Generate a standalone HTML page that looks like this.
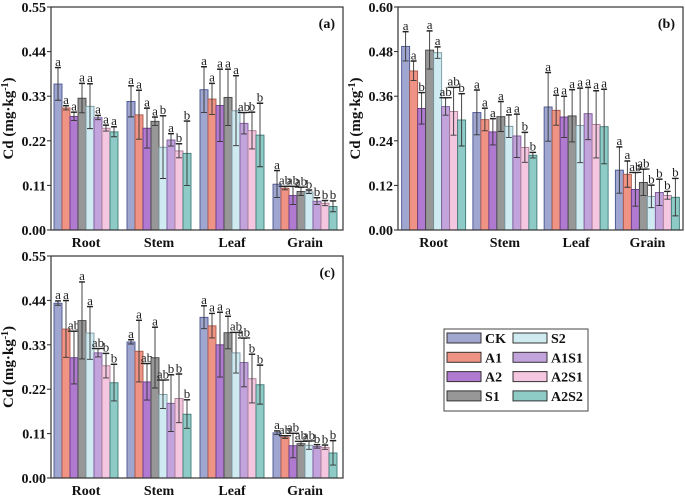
<!DOCTYPE html>
<html><head><meta charset="utf-8"><style>
body{margin:0;background:#fff}
svg{display:block;font-family:"Liberation Serif",serif}
</style></head><body>
<svg id="c" width="685" height="501" viewBox="0 0 685 501"></svg>
<script>
const categories=["Root","Stem","Leaf","Grain"];
const seriesNames=["CK","A1","A2","S1","S2","A1S1","A2S1","A2S2"];
const colors=["#9fa6cf","#ef9484","#b07ad0","#979797","#cfeaf0","#c3a3dc","#f5c6e0","#8ecac6"];
const strokes=["#4a5590","#a8584a","#6a3a8a","#444","#7a9aa2","#7a5a98","#a87a94","#3e7a76"];
const ticksA=["0.00","0.11","0.22","0.33","0.44","0.55"];
const ticksB=["0.00","0.12","0.24","0.36","0.48","0.60"];
const ticksC=["0.00","0.11","0.22","0.33","0.44","0.55"];
const valuesA=[[0.360,0.301,0.280,0.325,0.305,0.277,0.251,0.242],[0.317,0.284,0.251,0.268,0.204,0.222,0.195,0.189],[0.346,0.323,0.307,0.327,0.294,0.263,0.245,0.234],[0.113,0.103,0.085,0.095,0.094,0.071,0.066,0.058]];
const errorsA=[[0.040,0.005,0.010,0.036,0.055,0.005,0.007,0.012],[0.038,0.060,0.049,0.010,0.077,0.015,0.017,0.079],[0.056,0.038,0.089,0.069,0.086,0.026,0.045,0.078],[0.033,0.004,0.022,0.010,0.004,0.008,0.006,0.013]];
const lettersA=[["a","a","a","a","a","a","a","a"],["a","a","a","a","b","a","b","b"],["a","a","a","a","a","ab","b","b"],["a","ab","ab","ab","b","b","b","b"]];
const valuesB=[[0.494,0.428,0.327,0.484,0.477,0.332,0.319,0.296],[0.316,0.297,0.264,0.305,0.279,0.253,0.222,0.201],[0.331,0.322,0.304,0.307,0.281,0.313,0.284,0.278],[0.161,0.150,0.109,0.128,0.090,0.101,0.093,0.088]];
const errorsB=[[0.039,0.026,0.042,0.051,0.015,0.023,0.064,0.070],[0.060,0.030,0.035,0.040,0.030,0.058,0.040,0.007],[0.092,0.040,0.055,0.070,0.100,0.070,0.090,0.100],[0.062,0.035,0.045,0.035,0.030,0.035,0.010,0.050]];
const lettersB=[["a","a","b","a","a","ab","ab","b"],["a","a","a","a","a","a","b","b"],["a","a","a","a","a","a","a","a"],["a","a","ab","ab","b","b","b","b"]];
const valuesC=[[0.433,0.369,0.298,0.390,0.359,0.310,0.278,0.236],[0.337,0.314,0.238,0.298,0.207,0.185,0.197,0.158],[0.398,0.377,0.330,0.360,0.310,0.286,0.246,0.231],[0.112,0.101,0.080,0.085,0.081,0.078,0.076,0.062]];
const errorsC=[[0.005,0.070,0.065,0.095,0.065,0.010,0.030,0.045],[0.005,0.076,0.045,0.075,0.035,0.070,0.060,0.035],[0.028,0.030,0.080,0.040,0.050,0.060,0.060,0.048],[0.004,0.003,0.030,0.005,0.010,0.004,0.005,0.030]];
const lettersC=[["a","a","ab","a","a","ab","b","b"],["a","a","ab","a","ab","b","b","b"],["a","a","a","a","ab","ab","b","b"],["a","ab","ab","ab","ab","b","b","b"]];

const NS="http://www.w3.org/2000/svg";
const svg=document.getElementById('c');
function mk(tag,attrs,parent){const e=document.createElementNS(NS,tag);for(const k in attrs)e.setAttribute(k,attrs[k]);(parent||svg).appendChild(e);return e;}

function panel(p){
  const g=mk('g',{});
  
  
  const max=parseFloat(p.ticks[p.ticks.length-1]);
  const y=v=>p.y0-(v/max)*(p.y0-p.y1);
  const gw=(p.x1-p.x0)/4;
  const bw=8;
  p.ticks.forEach((t,i)=>{
    const yy=y(parseFloat(t));
    const l=mk('line',{x1:p.x0-4,x2:p.x0,y1:yy,y2:yy,stroke:'#222','stroke-width':1},g);
    
    
    const tx=mk('text',{x:p.x0-5,y:yy+5,'text-anchor':'end','font-size':14,'font-weight':'bold',fill:'#111'},g);
    tx.textContent=t;
    
    
  });
  const yt=mk('text',{transform:`translate(${p.x0-38},${(p.y0+p.y1)/2}) rotate(-90)`,'text-anchor':'middle','font-size':15,'font-weight':'bold',fill:'#111'},g);
  yt.innerHTML='Cd (mg·kg<tspan dy="-5" font-size="10">-1</tspan><tspan dy="5">)</tspan>';
  
  
  categories.forEach((c,ci)=>{
    const cx=p.x0+gw*(ci+0.5)+p.shift;
    const start=cx-bw*4;
    p.values[ci].forEach((v,si)=>{
      const bx=start+si*bw;
      const r=mk('rect',{x:bx,y:y(v),width:bw,height:p.y0-y(v),fill:colors[si],stroke:strokes[si],'stroke-width':0.9},g);
      
      
      const e=p.errors[ci][si];
      const mx=bx+bw/2, t=y(v+e), b=y(Math.max(0,v-e));
      const el=mk('path',{d:`M${mx},${t}V${b}M${mx-3},${t}H${mx+3}M${mx-3},${b}H${mx+3}`,stroke:'#333','stroke-width':0.9,fill:'none'},g);
      
      
      const lt=mk('text',{x:mx,y:t-2,'text-anchor':'middle','font-size':13,fill:'#222','text-decoration':'underline'},g);
      lt.textContent=p.letters[ci][si];
      
      
    });
    const xl=mk('text',{x:cx,y:p.y0+17,'text-anchor':'middle','font-size':14,'font-weight':'bold',fill:'#111'},g);
    xl.textContent=c;
    
    
  });
  const fr=mk('rect',{x:p.x0,y:p.y1,width:p.x1-p.x0,height:p.y0-p.y1,fill:'none',stroke:'#333','stroke-width':1.2},g);
  
  
  const pl=mk('text',{x:p.x1-8,y:p.y1+21,'text-anchor':'end','font-size':14,'font-weight':'bold',fill:'#111'},g);
  pl.textContent='('+p.id+')';
  
  
}
panel({id:'a',x0:51,x1:343,y0:230,y1:7,shift:-1.5,ticks:ticksA,values:valuesA,errors:errorsA,letters:lettersA});
panel({id:'b',x0:398,x1:683,y0:230,y1:7,shift:0,ticks:ticksB,values:valuesB,errors:errorsB,letters:lettersB});
panel({id:'c',x0:51,x1:343,y0:478,y1:256,shift:-1.5,ticks:ticksC,values:valuesC,errors:errorsC,letters:lettersC});

const lg=mk('g',{});


mk('rect',{x:444,y:329,width:144,height:82,fill:'#fff',stroke:'#444','stroke-width':1},lg);
seriesNames.forEach((n,i)=>{
  const col=Math.floor(i/4),row=i%4;
  const sx=447+col*66, sy=333+row*19.3;
  const sw=mk('rect',{x:sx,y:sy,width:34,height:10,fill:colors[i],stroke:'#333','stroke-width':1},lg);
  
  
  const t=mk('text',{x:sx+38,y:sy+10,'font-size':14,'font-weight':'bold',fill:'#111'},lg);
  t.textContent=n;
  
  
});
</script>
</body></html>
